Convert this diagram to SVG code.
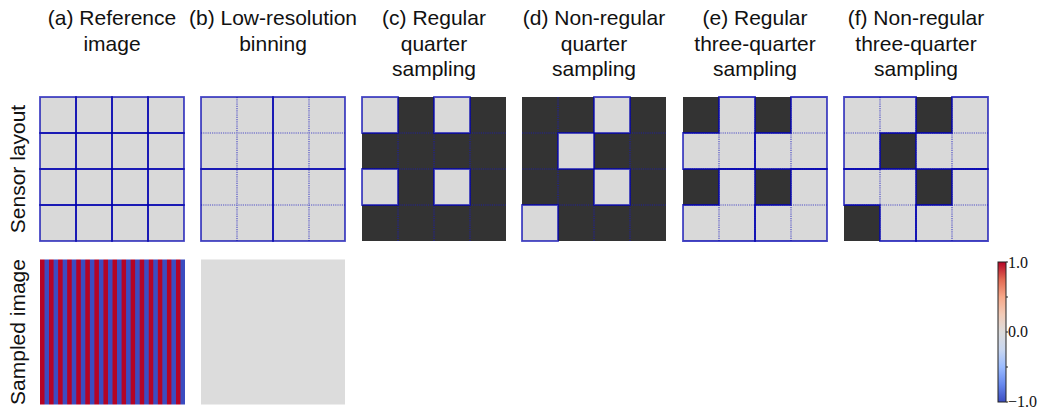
<svg xmlns="http://www.w3.org/2000/svg" width="1045" height="408" viewBox="0 0 1045 408">
<defs>
<style>
.t{font-family:"Liberation Sans",Arial,sans-serif;font-size:21px;fill:#111;text-anchor:middle}
.cb{font-family:"Liberation Serif","Times New Roman",serif;font-size:16px;fill:#111}
.lt{fill:#d9d9d9}
.dk{fill:#333333}
.sol{fill:none;stroke:#0000b0;stroke-opacity:0.72;stroke-width:1.8}
.dot{fill:none;stroke:#1a1ac0;stroke-opacity:0.7;stroke-width:1.2;stroke-dasharray:1.2 1}
</style>
<linearGradient id="cw" x1="0" y1="1" x2="0" y2="0">
<stop offset="0" stop-color="#3b4cc0"/>
<stop offset="0.125" stop-color="#6788ee"/>
<stop offset="0.25" stop-color="#9abbff"/>
<stop offset="0.375" stop-color="#c9d7f0"/>
<stop offset="0.5" stop-color="#dddcdc"/>
<stop offset="0.625" stop-color="#f2cbb7"/>
<stop offset="0.75" stop-color="#f7a889"/>
<stop offset="0.875" stop-color="#e26952"/>
<stop offset="1" stop-color="#b40426"/>
</linearGradient>
<pattern id="stripes" x="40" y="0" width="9.0625" height="20" patternUnits="userSpaceOnUse">
<rect x="0" y="0" width="4.53" height="20" fill="#b40426"/>
<rect x="4.53" y="0" width="4.54" height="20" fill="#3b4cc0"/>
</pattern>
<path id="grid" d="M36,0V144M72,0V144M108,0V144M0,36H144M0,72H144M0,108H144"/>
</defs>
<rect width="1045" height="408" fill="#ffffff"/>

<g id="titles">
<text class="t" x="112" y="25">(a) Reference</text>
<text class="t" x="112" y="50.5">image</text>
<text class="t" x="273" y="25">(b) Low-resolution</text>
<text class="t" x="273" y="50.5">binning</text>
<text class="t" x="434" y="25">(c) Regular</text>
<text class="t" x="434" y="50.5">quarter</text>
<text class="t" x="434" y="76">sampling</text>
<text class="t" x="594" y="25">(d) Non-regular</text>
<text class="t" x="594" y="50.5">quarter</text>
<text class="t" x="594" y="76">sampling</text>
<text class="t" x="755" y="25">(e) Regular</text>
<text class="t" x="755" y="50.5">three-quarter</text>
<text class="t" x="755" y="76">sampling</text>
<text class="t" x="916" y="25">(f) Non-regular</text>
<text class="t" x="916" y="50.5">three-quarter</text>
<text class="t" x="916" y="76">sampling</text>
<text class="t" transform="translate(25,169) rotate(-90)">Sensor layout</text>
<text class="t" transform="translate(25,332) rotate(-90)">Sampled image</text>
</g>

<g id="panel-a" transform="translate(40,97)">
<rect class="lt" width="144" height="144"/>
<g class="sol">
<rect x="0" y="0" width="36" height="36"/><rect x="36" y="0" width="36" height="36"/><rect x="72" y="0" width="36" height="36"/><rect x="108" y="0" width="36" height="36"/>
<rect x="0" y="36" width="36" height="36"/><rect x="36" y="36" width="36" height="36"/><rect x="72" y="36" width="36" height="36"/><rect x="108" y="36" width="36" height="36"/>
<rect x="0" y="72" width="36" height="36"/><rect x="36" y="72" width="36" height="36"/><rect x="72" y="72" width="36" height="36"/><rect x="108" y="72" width="36" height="36"/>
<rect x="0" y="108" width="36" height="36"/><rect x="36" y="108" width="36" height="36"/><rect x="72" y="108" width="36" height="36"/><rect x="108" y="108" width="36" height="36"/>
</g>
</g>

<g id="panel-b" transform="translate(201,97)">
<rect class="lt" width="144" height="144"/>
<path class="dot" d="M36,0V144M108,0V144M0,36H144M0,108H144"/>
<g class="sol">
<rect x="0" y="0" width="72" height="72"/><rect x="72" y="0" width="72" height="72"/>
<rect x="0" y="72" width="72" height="72"/><rect x="72" y="72" width="72" height="72"/>
</g>
</g>

<g id="panel-c" transform="translate(362,97)">
<rect class="dk" width="144" height="144"/>
<use href="#grid" class="dot"/>
<rect class="lt" x="0" y="0" width="36" height="36"/><rect class="lt" x="72" y="0" width="36" height="36"/>
<rect class="lt" x="0" y="72" width="36" height="36"/><rect class="lt" x="72" y="72" width="36" height="36"/>
<g class="sol">
<rect x="0" y="0" width="36" height="36"/><rect x="72" y="0" width="36" height="36"/>
<rect x="0" y="72" width="36" height="36"/><rect x="72" y="72" width="36" height="36"/>
</g>
</g>

<g id="panel-d" transform="translate(522,97)">
<rect class="dk" width="144" height="144"/>
<use href="#grid" class="dot"/>
<rect class="lt" x="72" y="0" width="36" height="36"/><rect class="lt" x="36" y="36" width="36" height="36"/>
<rect class="lt" x="72" y="72" width="36" height="36"/><rect class="lt" x="0" y="108" width="36" height="36"/>
<g class="sol">
<rect x="72" y="0" width="36" height="36"/><rect x="36" y="36" width="36" height="36"/>
<rect x="72" y="72" width="36" height="36"/><rect x="0" y="108" width="36" height="36"/>
</g>
</g>

<g id="panel-e" transform="translate(683,97)">
<rect class="lt" width="144" height="144"/>
<rect class="dk" x="0" y="0" width="36" height="36"/><rect class="dk" x="72" y="0" width="36" height="36"/>
<rect class="dk" x="0" y="72" width="36" height="36"/><rect class="dk" x="72" y="72" width="36" height="36"/>
<use href="#grid" class="dot"/>
<g class="sol">
<path d="M36,0H72V72H0V36H36Z"/>
<path d="M108,0H144V72H72V36H108Z"/>
<path d="M36,72H72V144H0V108H36Z"/>
<path d="M108,72H144V144H72V108H108Z"/>
</g>
</g>

<g id="panel-f" transform="translate(844,97)">
<rect class="lt" width="144" height="144"/>
<rect class="dk" x="72" y="0" width="36" height="36"/><rect class="dk" x="36" y="36" width="36" height="36"/>
<rect class="dk" x="72" y="72" width="36" height="36"/><rect class="dk" x="0" y="108" width="36" height="36"/>
<use href="#grid" class="dot"/>
<g class="sol">
<path d="M0,0H72V36H36V72H0Z"/>
<path d="M108,0H144V72H72V36H108Z"/>
<path d="M0,72H72V144H36V108H0Z"/>
<path d="M108,72H144V144H72V108H108Z"/>
</g>
</g>

<g id="sampled-a">
<rect x="40" y="259.5" width="145" height="145" fill="url(#stripes)"/>
</g>
<g id="sampled-b">
<rect x="201" y="259.5" width="144" height="145" fill="#dcdcdc"/>
</g>

<g id="colorbar">
<rect x="998" y="262" width="8" height="140" fill="url(#cw)" stroke="#222" stroke-width="1"/>
<path d="M1006,262h2M1006,297h2M1006,332h2M1006,367h2M1006,402h2" stroke="#222" stroke-width="1"/>
<text class="cb" x="1008" y="267.5">1.0</text>
<text class="cb" x="1008" y="337">0.0</text>
<text class="cb" x="1008" y="406.5">−1.0</text>
</g>
</svg>
